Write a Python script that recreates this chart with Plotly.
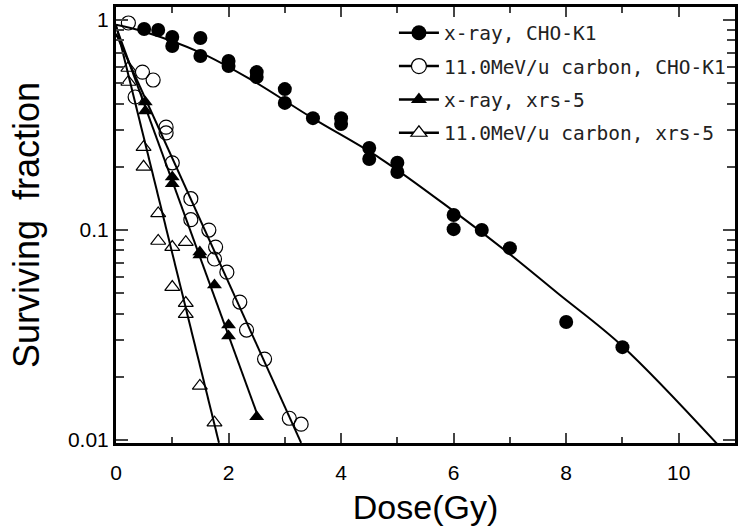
import plotly.graph_objects as go

# ---- data ----
xray_cho_dose = [0.5, 0.75, 1.0, 1.0, 1.5, 1.5, 2.0, 2.0, 2.5, 2.5, 3.0, 3.0, 3.5, 4.0, 4.0,
                 4.5, 4.5, 5.0, 5.0, 6.0, 6.0, 6.5, 7.0, 8.0, 9.0]
xray_cho_sf = [0.906, 0.896, 0.830, 0.752, 0.821, 0.674, 0.638, 0.604, 0.565, 0.535, 0.469, 0.403,
               0.341, 0.341, 0.320, 0.246, 0.218, 0.209, 0.189, 0.118, 0.101, 0.100, 0.082, 0.0365, 0.0277]

carbon_cho_dose = [0.22, 0.34, 0.47, 0.66, 0.89, 0.89, 1.0, 1.33, 1.33, 1.65, 1.77, 1.75, 1.97,
                   2.2, 2.32, 2.64, 3.08, 3.29]
carbon_cho_sf = [0.968, 0.430, 0.565, 0.518, 0.309, 0.290, 0.209, 0.141, 0.112, 0.100, 0.083, 0.0728,
                 0.063, 0.0454, 0.0334, 0.0243, 0.0127, 0.0119]

xray_xrs_dose = [0.52, 0.52, 1.0, 1.0, 1.49, 1.49, 1.75, 2.0, 2.0, 2.5]
xray_xrs_sf = [0.407, 0.369, 0.179, 0.166, 0.0786, 0.076, 0.0547, 0.0353, 0.0313, 0.0129]

carbon_xrs_dose = [0.22, 0.22, 0.49, 0.49, 0.75, 0.75, 1.0, 1.24, 1.0, 1.24, 1.24, 1.49, 1.75]
carbon_xrs_sf = [0.591, 0.507, 0.248, 0.20, 0.120, 0.0887, 0.083, 0.0875, 0.0535, 0.0449, 0.0398,
                 0.0181, 0.0121]

# fitted curves
fit_xray_cho_dose = [0, 0.5, 1.5, 2.4, 3.5, 4.7, 6.0, 7.0, 7.85, 9.0, 10.68]
fit_xray_cho_sf = [0.95, 0.88, 0.70, 0.52, 0.34, 0.219, 0.123, 0.0767, 0.050, 0.028, 0.0096]
fit_carbon_cho_dose = [0, 3.29]
fit_carbon_cho_sf = [0.86, 0.0097]
fit_xray_xrs_dose = [0, 2.5]
fit_xray_xrs_sf = [0.93, 0.0135]
fit_carbon_xrs_dose = [0, 1.83]
fit_carbon_xrs_sf = [0.95, 0.0097]

legend_names = ["x-ray, CHO-K1", "11.0MeV/u carbon, CHO-K1", "x-ray, xrs-5", "11.0MeV/u carbon, xrs-5"]

x_tickvals = [0, 2, 4, 6, 8, 10]
y_tickvals = [0.01, 0.1, 1]
y_ticktext = ["0.01", "0.1", "1"]

fig = go.Figure()

for fx, fy, shape in [(fit_xray_cho_dose, fit_xray_cho_sf, "spline"),
                      (fit_carbon_cho_dose, fit_carbon_cho_sf, "linear"),
                      (fit_xray_xrs_dose, fit_xray_xrs_sf, "linear"),
                      (fit_carbon_xrs_dose, fit_carbon_xrs_sf, "linear")]:
    fig.add_trace(go.Scatter(x=fx, y=fy, mode="lines", line=dict(color="black", width=2, shape=shape),
                             showlegend=False, hoverinfo="skip"))

data_sets = [
    (xray_cho_dose, xray_cho_sf, dict(symbol="circle", size=14, color="black")),
    (carbon_cho_dose, carbon_cho_sf, dict(symbol="circle-open", size=14, color="black", line=dict(width=1.2))),
    (xray_xrs_dose, xray_xrs_sf, dict(symbol="triangle-up", size=13, color="black")),
    (carbon_xrs_dose, carbon_xrs_sf, dict(symbol="triangle-up-open", size=13, color="black", line=dict(width=1.2))),
]
for dx, dy, mk in data_sets:
    fig.add_trace(go.Scatter(x=dx, y=dy, mode="markers", marker=mk, showlegend=False))

legend_markers = [
    dict(symbol="circle", size=15, color="black"),
    dict(symbol="circle", size=15, color="white", line=dict(color="black", width=1.2)),
    dict(symbol="triangle-up", size=14, color="black"),
    dict(symbol="triangle-up", size=14, color="white", line=dict(color="black", width=1.2)),
]
for i, (name, mk) in enumerate(zip(legend_names, legend_markers)):
    fig.add_trace(go.Scatter(x=[None], y=[None], mode="lines+markers", name=name, marker=mk,
                             line=dict(color="black", width=2.5), legendgroup=f"g{i}"))

tick_font = dict(family="Liberation Sans, Arial, sans-serif", size=21, color="black")
fig.update_layout(
    width=739, height=532,
    margin=dict(l=116, r=1, t=7, b=89),
    paper_bgcolor="white", plot_bgcolor="white",
    showlegend=True,
    legend=dict(x=0.449, y=0.985, xanchor="left", yanchor="top", bgcolor="rgba(0,0,0,0)",
                font=dict(family="DejaVu Sans Mono, monospace", size=19.5, color="#222"),
                traceorder="grouped", tracegroupgap=5, itemwidth=40),
    xaxis=dict(range=[0, 11], tickvals=x_tickvals, ticks="inside", ticklen=10, tickwidth=2,
               showline=True, linewidth=3, linecolor="black", mirror="ticks", showgrid=False,
               zeroline=False, tickfont=tick_font, ticklabelstandoff=9,
               minor=dict(dtick=1, ticks="inside", ticklen=6, tickwidth=2, showgrid=False),
               title=dict(text="Dose(Gy)", font=dict(family="Liberation Sans, Arial, sans-serif", size=34, color="black"),
                          standoff=12)),
    yaxis=dict(type="log", range=[-2.014, 0.062], tickvals=y_tickvals, ticktext=y_ticktext,
               ticks="inside", ticklen=12, tickwidth=2,
               showline=True, linewidth=3, linecolor="black", mirror="ticks", showgrid=False,
               zeroline=False, tickfont=tick_font,
               minor=dict(dtick="D1", ticks="inside", ticklen=8, tickwidth=2, showgrid=False),
               title=dict(text="Surviving  fraction", font=dict(family="Liberation Sans, Arial, sans-serif", size=36, color="black"),
                          standoff=18)),
)

fig.write_html("out.html")
